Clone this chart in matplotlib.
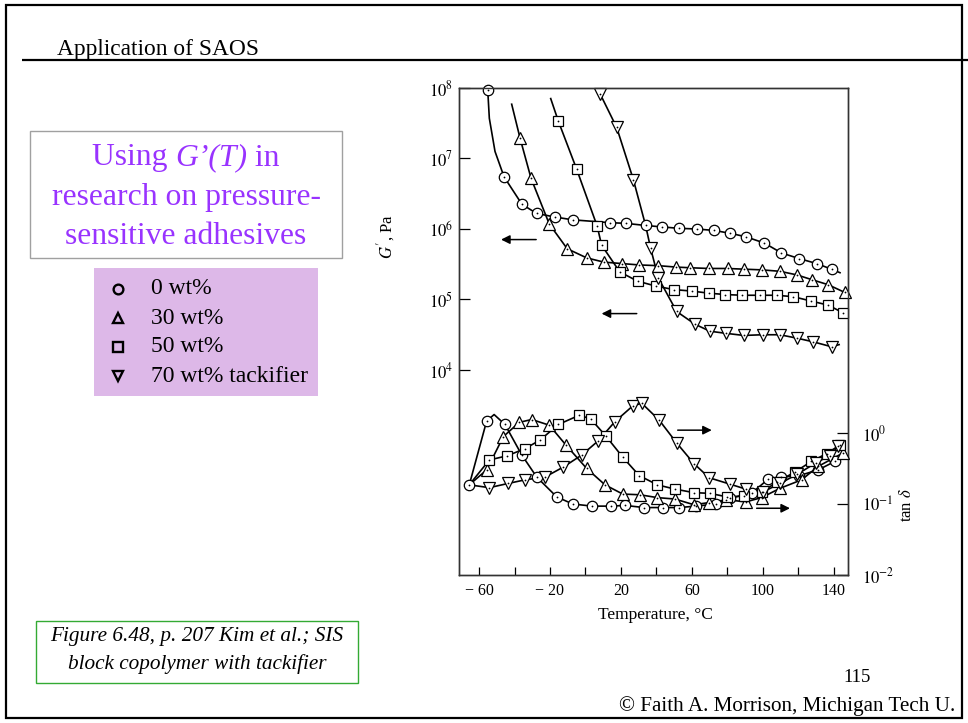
import numpy as np
import matplotlib
matplotlib.use("Agg")
import matplotlib.pyplot as plt
from matplotlib.patches import Rectangle

plt.rcParams['font.family'] = ['Liberation Serif', 'DejaVu Serif']
plt.rcParams['mathtext.fontset'] = 'stix'

# ---------------- data: storage modulus G' (log10 Pa) vs temperature (degC) ----------------
# "bend" lists hold indices of points that only shape the curve (no marker drawn)
T_g0 = [-55.1, -54.2, -51.0, -45.9, -35.8, -27.5, -17.2, -7.2, 13.8, 22.8, 33.9, 42.9,
        52.5, 62.6, 72.4, 81.4, 90.4, 100.9, 110.5, 120.5, 130.3, 138.7, 143.5]
logG_0 = [7.97, 7.57, 7.10, 6.74, 6.35, 6.22, 6.17, 6.13, 6.09, 6.08, 6.05, 6.03,
          6.01, 6.00, 5.98, 5.94, 5.89, 5.80, 5.66, 5.58, 5.51, 5.43, 5.38]
bend_g0 = [1, 2, 22]

T_g30 = [-41.6, -36.9, -30.7, -20.4, -10.3, 0.7, 10.4, 20.4, 30.3, 41.0, 51.0, 59.2,
         69.6, 80.1, 89.5, 99.6, 109.6, 119.0, 127.8, 136.8, 146.2]
logG_30 = [7.77, 7.29, 6.72, 6.07, 5.72, 5.59, 5.53, 5.51, 5.49, 5.48, 5.46, 5.45,
           5.44, 5.44, 5.43, 5.42, 5.40, 5.35, 5.28, 5.21, 5.10]
bend_g30 = [0]

T_g50 = [-19.6, -15.3, -5.0, 6.6, 9.1, 19.4, 29.4, 39.7, 49.9, 59.8, 69.4, 78.9,
         88.5, 98.3, 107.7, 117.1, 126.9, 136.8, 145.3]
logG_50 = [7.85, 7.53, 6.85, 6.04, 5.77, 5.39, 5.26, 5.19, 5.14, 5.12, 5.09, 5.07,
           5.06, 5.06, 5.06, 5.04, 4.98, 4.92, 4.81]
bend_g50 = [0]

T_g70 = [8.2, 17.6, 27.0, 33.9, 36.7, 41.0, 51.4, 61.7, 70.1, 79.2, 89.3, 99.8,
         109.6, 119.5, 128.3, 138.7, 143.0]
logG_70 = [7.92, 7.44, 6.70, 6.05, 5.73, 5.31, 4.83, 4.65, 4.55, 4.52, 4.49, 4.50,
           4.50, 4.45, 4.40, 4.33, 4.36]
bend_g70 = [3, 16]

# ---------------- data: loss tangent (log10 tan delta) vs temperature ----------------
T_t0 = [-65.5, -55.7, -51.5, -45.4, -35.9, -27.5, -16.2, -7.2, 3.8, 14.2, 22.3, 33.0,
        43.5, 52.7, 62.3, 73.4, 81.4, 94.0, 103.0, 110.5, 120.5, 131.2, 140.6]
logtan_0 = [-0.73, 0.17, 0.26, 0.12, -0.31, -0.62, -0.90, -1.00, -1.03, -1.03, -1.02, -1.05,
            -1.05, -1.05, -1.03, -1.00, -0.92, -0.84, -0.65, -0.62, -0.60, -0.52, -0.40]
bend_t0 = [2]

T_t30 = [-65.5, -55.7, -46.3, -37.3, -30.3, -20.4, -11.0, 0.7, 11.0, 21.0, 30.7, 40.5,
         50.4, 61.1, 69.7, 79.5, 90.4, 99.3, 109.6, 121.8, 131.2, 145.3]
logtan_30 = [-0.73, -0.52, -0.05, 0.15, 0.19, 0.11, -0.17, -0.50, -0.73, -0.86, -0.87, -0.91,
             -0.93, -1.01, -0.98, -0.94, -0.97, -0.91, -0.78, -0.66, -0.47, -0.28]
bend_t30 = [0]

T_t50 = [-65.5, -54.2, -44.0, -34.1, -25.6, -15.3, -3.5, 2.9, 11.4, 21.0, 30.3, 40.5,
         50.4, 61.1, 70.1, 79.9, 89.3, 99.3, 108.1, 118.0, 127.4, 135.9, 143.4]
logtan_50 = [-0.73, -0.38, -0.32, -0.22, -0.10, 0.12, 0.25, 0.20, -0.04, -0.34, -0.60, -0.73,
             -0.79, -0.84, -0.85, -0.90, -0.89, -0.83, -0.69, -0.55, -0.40, -0.29, -0.17]
bend_t50 = [0]

T_t70 = [-65.5, -54.2, -43.5, -34.1, -22.8, -12.5, -2.1, 7.2, 16.6, 26.6, 31.7, 41.6,
         51.4, 61.1, 69.7, 81.4, 90.4, 100.2, 109.6, 119.5, 129.9, 137.7, 142.4]
logtan_70 = [-0.73, -0.77, -0.71, -0.66, -0.62, -0.48, -0.31, -0.11, 0.16, 0.38, 0.42, 0.18,
             -0.14, -0.43, -0.63, -0.72, -0.79, -0.83, -0.71, -0.58, -0.42, -0.32, -0.19]
bend_t70 = [0]

legend_labels = ["0 wt%", "30 wt%", "50 wt%", "70 wt% tackifier"]
legend_markers = ["o", "^", "s", "v"]

x_ticks = [-60, -40, -20, 0, 20, 40, 60, 80, 100, 120, 140]
x_ticklabels = ["\u2212 60", "", "\u2212 20", "", "20", "", "60", "", "100", "", "140"]
g_ticks = [1e4, 1e5, 1e6, 1e7, 1e8]
g_ticklabels = [r"$10^4$", r"$10^5$", r"$10^6$", r"$10^7$", r"$10^8$"]
tan_ticks = [1e-2, 1e-1, 1e0]
tan_ticklabels = [r"$10^{-2}$", r"$10^{-1}$", r"$10^{0}$"]

# ---------------- figure ----------------
W, H = 968, 723
fig = plt.figure(figsize=(W / 100, H / 100), dpi=100)
fig.patch.set_facecolor("white")

# slide layer in pixel coordinates
bg = fig.add_axes([0, 0, 1, 1], zorder=0)
bg.set_xlim(0, W)
bg.set_ylim(H, 0)
bg.axis("off")

bg.add_patch(Rectangle((6, 5), 956, 713, fill=False, ec="black", lw=1.6))
bg.plot([22, 968], [60, 60], color="black", lw=1.6, solid_capstyle="butt")
bg.text(57, 55, "Application of SAOS", fontsize=16.8, va="baseline", ha="left")

purple = "#9933FF"
title_fs = 22.8
bg.add_patch(Rectangle((30, 131), 312, 127, fill=False, ec="#A0A0A0", lw=1.0))

# first title line with italic middle part, laid out piece by piece
fig.canvas.draw()
renderer = fig.canvas.get_renderer()
pieces = [("Using ", "normal"), ("G\u2019(T)", "italic"), (" in", "normal")]
tmp = [bg.text(0, 0, s, fontsize=title_fs, style=st, color=purple) for s, st in pieces]
widths = [t.get_window_extent(renderer).width for t in tmp]
for t in tmp:
    t.remove()
x0 = 186 - sum(widths) / 2
for (s, st), w in zip(pieces, widths):
    bg.text(x0, 158, s, fontsize=title_fs, style=st, color=purple, ha="left", va="center")
    x0 += w
bg.text(186, 197, "research on pressure-", fontsize=title_fs, color=purple, ha="center", va="center")
bg.text(186, 236, "sensitive adhesives", fontsize=title_fs, color=purple, ha="center", va="center")

bg.add_patch(Rectangle((94, 268), 224, 128, fc="#DDB8E8", ec="none"))
for i, (lab, mk) in enumerate(zip(legend_labels, legend_markers)):
    yy = 289 + 29 * i
    bg.plot([118], [yy], marker=mk, ms=7, mfc="none", mec="black", mew=1.7, ls="none")
    bg.text(151, yy, lab, fontsize=17, ha="left", va="center")

bg.add_patch(Rectangle((36, 621), 322, 62, fill=False, ec="#33AA33", lw=1.0))
bg.text(197, 637, "Figure 6.48, p. 207 Kim et al.; SIS", fontsize=15.3, style="italic",
        ha="center", va="center")
bg.text(197, 664, "block copolymer with tackifier", fontsize=15.3, style="italic",
        ha="center", va="center")

bg.text(857, 678, "115", fontsize=13.5, ha="center", va="center")
bg.text(955, 706, "\u00a9 Faith A. Morrison, Michigan Tech U.", fontsize=15.2,
        ha="right", va="center")

# ---------------- chart ----------------
left, right, top, bottom = 459, 848, 88, 575
ax = fig.add_axes([left / W, 1 - bottom / H, (right - left) / W, (bottom - top) / H], zorder=2)
ax.set_xlim(-71.3, 148.0)
ax.set_yscale("log")
ax.set_ylim(10 ** 1.092, 1e8)
ax2 = ax.twinx()
ax2.set_yscale("log")
ax2.set_ylim(1e-2, 10 ** 4.859)

for a in (ax, ax2):
    for sp in a.spines.values():
        sp.set_linewidth(1.0)
        sp.set_color("#333333")
    a.minorticks_off()

ax.set_xticks(x_ticks)
ax.set_xticklabels(x_ticklabels, fontsize=11.5)
ax.tick_params(axis="x", direction="in", length=6, width=0.9, pad=6, top=False)
ax.set_yticks(g_ticks)
ax.set_yticklabels(g_ticklabels, fontsize=12)
ax.tick_params(axis="y", which="both", direction="in", length=8, width=0.9, pad=4, right=False)
ax.yaxis.set_minor_locator(matplotlib.ticker.NullLocator())
ax2.set_yticks(tan_ticks)
ax2.set_yticklabels(tan_ticklabels, fontsize=12)
ax2.tick_params(axis="y", which="both", direction="in", length=8, width=0.9, pad=10)
ax2.yaxis.set_minor_locator(matplotlib.ticker.NullLocator())

ax.set_xlabel("Temperature, \u00b0C", fontsize=12.5)
ax.xaxis.set_label_coords(0.504, -0.066)
ax.set_ylabel(r"$G^{\prime}$, Pa", fontsize=12)
ax.yaxis.set_label_coords(-0.159, 0.694)
ax2.set_ylabel(r"tan $\delta$", fontsize=12, rotation=90)
ax2.yaxis.set_label_coords(1.13, 0.144)


def draw_series(axis, T, logv, bends, marker, ms):
    T = np.asarray(T, dtype=float)
    v = 10 ** np.asarray(logv, dtype=float)
    mask = np.ones(len(T), dtype=bool)
    mask[bends] = False
    axis.plot(T, v, "-", color="black", lw=1.2, zorder=2)
    axis.plot(T[mask], v[mask], ls="none", marker=marker, ms=ms, mfc="white",
              mec="black", mew=0.9, zorder=3, clip_on=False)
    axis.plot(T[mask], v[mask], ls="none", marker="o", ms=1.3, mfc="black",
              mec="black", mew=0, zorder=4, clip_on=False)


draw_series(ax, T_g0, logG_0, bend_g0, "o", 7.5)
draw_series(ax, T_g30, logG_30, bend_g30, "^", 8)
draw_series(ax, T_g50, logG_50, bend_g50, "s", 6.8)
draw_series(ax, T_g70, logG_70, bend_g70, "v", 8)

draw_series(ax2, T_t0, logtan_0, bend_t0, "o", 7.5)
draw_series(ax2, T_t30, logtan_30, bend_t30, "^", 8)
draw_series(ax2, T_t50, logtan_50, bend_t50, "s", 6.8)
draw_series(ax2, T_t70, logtan_70, bend_t70, "v", 8)

arrow = dict(arrowstyle="-|>", color="black", lw=1.1, mutation_scale=13, shrinkA=0, shrinkB=0)
ax.annotate("", xy=(-47.6, 10 ** 5.85), xytext=(-27.8, 10 ** 5.85), arrowprops=arrow)
ax.annotate("", xy=(9.1, 10 ** 4.80), xytext=(28.9, 10 ** 4.80), arrowprops=arrow)
ax2.annotate("", xy=(71.2, 10 ** 0.04), xytext=(52.0, 10 ** 0.04), arrowprops=arrow)
ax2.annotate("", xy=(115.3, 10 ** -1.06), xytext=(96.5, 10 ** -1.06), arrowprops=arrow)

fig.savefig("out.png", dpi=100, facecolor="white")
